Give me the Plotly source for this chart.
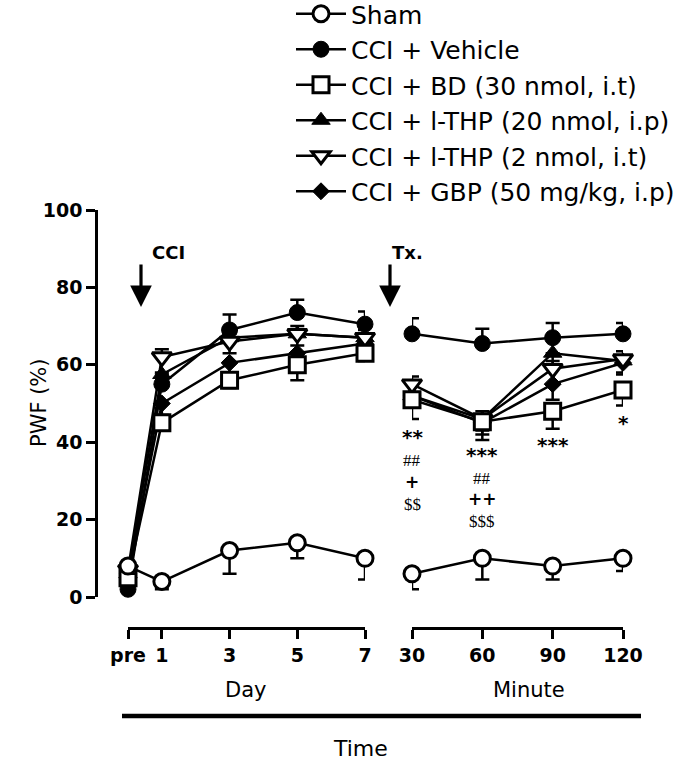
import plotly.graph_objects as go

# ---------------- data ----------------
day_x = [0, 1, 3, 5, 7]
day_ticktext = ["pre", "1", "3", "5", "7"]
min_x = [30, 60, 90, 120]
min_ticktext = ["30", "60", "90", "120"]
y_ticks = [0, 20, 40, 60, 80, 100]

names = ["Sham", "CCI + Vehicle", "CCI + BD (30 nmol, i.t)",
         "CCI + l-THP (20 nmol, i.p)", "CCI + l-THP (2 nmol, i.t)",
         "CCI + GBP (50 mg/kg, i.p)"]

sham_day = [8, 4, 12, 14, 10]
sham_day_err = [2, 2, 6, 4, 5.5]
sham_min = [6, 10, 8, 10]
sham_min_err = [4, 5.5, 3.5, 3.3]

veh_day = [2, 55, 69, 73.5, 70.5]
veh_day_err = [1, 3, 4, 3.3, 3.3]
veh_min = [68, 65.5, 67, 68]
veh_min_err = [4, 3.8, 3.8, 2.8]

bd_day = [5, 45, 56, 60, 63]
bd_day_err = [1.5, 2, 2, 4, 2]
bd_min = [51, 45.3, 48, 53.5]
bd_min_err = [5, 4.7, 4.5, 4]

thp20_day = [6, 57.5, 67, 68, 67]
thp20_day_err = [1, 3, 4, 3, 2]
thp20_min = [52, 46, 63, 61]
thp20_min_err = [3, 3, 4, 3]

thp2_day = [7, 62, 66, 68, 67]
thp2_day_err = [1, 2, 2, 2, 2]
thp2_min = [55, 46, 59, 61.5]
thp2_min_err = [2, 2, 2, 2]

gbp_day = [6, 50, 60.5, 63, 65.5]
gbp_day_err = [1, 3, 3, 3, 2]
gbp_min = [52, 45, 55, 60.5]
gbp_min_err = [3, 3, 4, 3]

sig_30 = ["**", "##", "+", "$$"]
sig_30_y = [41.3, 35.4, 29.7, 23.8]
sig_60 = ["***", "##", "++", "$$$"]
sig_60_y = [36.6, 30.7, 25.2, 19.6]
sig_90 = ["***"]
sig_90_y = [39.2]
sig_120 = ["*"]
sig_120_y = [45.0]

# ---------------- layout helpers ----------------
W, H = 675, 770
def px(x):
    return x / W
def py(y):
    return 1 - y / H

FONT = "DejaVu Sans, sans-serif"
SERIF = "Liberation Serif, serif"

styles = {
    "Sham": dict(symbol="circle", size=16, color="white", line=dict(color="black", width=3)),
    "CCI + Vehicle": dict(symbol="circle", size=16, color="black", line=dict(color="black", width=1)),
    "CCI + BD (30 nmol, i.t)": dict(symbol="square", size=16, color="white", line=dict(color="black", width=3)),
    "CCI + l-THP (20 nmol, i.p)": dict(symbol="triangle-up", size=16, color="black", line=dict(color="black", width=1)),
    "CCI + l-THP (2 nmol, i.t)": dict(symbol="triangle-down", size=17, color="white", line=dict(color="black", width=3)),
    "CCI + GBP (50 mg/kg, i.p)": dict(symbol="diamond", size=13, color="black", line=dict(color="black", width=1)),
}

series = [
    (names[1], veh_day, veh_day_err, veh_min, veh_min_err, "up", 2),
    (names[3], thp20_day, thp20_day_err, thp20_min, thp20_min_err, "down", 4),
    (names[5], gbp_day, gbp_day_err, gbp_min, gbp_min_err, "down", 6),
    (names[4], thp2_day, thp2_day_err, thp2_min, thp2_min_err, "up", 5),
    (names[2], bd_day, bd_day_err, bd_min, bd_min_err, "down", 3),
    (names[0], sham_day, sham_day_err, sham_min, sham_min_err, "down", 1),
]

fig = go.Figure()

def err(vals, direction):
    zeros = [0] * len(vals)
    if direction == "up":
        return dict(type="data", symmetric=False, array=vals, arrayminus=zeros,
                    color="black", thickness=2.5, width=7)
    return dict(type="data", symmetric=False, array=zeros, arrayminus=vals,
                color="black", thickness=2.5, width=7)

for name, dv, de, mv, me, direction, rank in series:
    for xs, ys, es, xa, show in [(day_x, dv, de, "x", True), (min_x, mv, me, "x2", False)]:
        fig.add_trace(go.Scatter(
            x=xs, y=ys, mode="lines+markers", name=name,
            legendgroup=name, showlegend=show, legendrank=rank,
            xaxis=xa, yaxis="y", cliponaxis=False,
            line=dict(color="black", width=2.5),
            marker=styles[name],
            error_y=err(es, direction),
        ))

axis_common = dict(showgrid=False, zeroline=False, showline=True, linecolor="black",
                   linewidth=2.5, ticks="outside", tickcolor="black", tickwidth=2.5,
                   ticklen=9, automargin=False,
                   tickfont=dict(family=FONT, size=19, color="black", weight="bold"))

fig.update_layout(
    width=W, height=H, autosize=False,
    margin=dict(l=0, r=0, t=0, b=0, pad=0, autoexpand=False),
    paper_bgcolor="white", plot_bgcolor="rgba(0,0,0,0)",
    font=dict(family=FONT, color="black"),
    xaxis=dict(domain=[px(128), px(365)], range=[0, 7], anchor="free", position=py(628),
               tickvals=day_x, ticktext=day_ticktext, **axis_common),
    xaxis2=dict(domain=[px(412), px(623)], range=[30, 120], anchor="free", position=py(628),
                tickvals=min_x, ticktext=min_ticktext, **axis_common),
    yaxis=dict(domain=[py(597), py(210)], range=[0, 100], anchor="free", position=px(96),
               tickvals=y_ticks, **axis_common),
    legend=dict(x=px(291), y=py(-9), xanchor="left", yanchor="top",
                font=dict(family=FONT, size=25, color="black"),
                traceorder="grouped", tracegroupgap=0, bgcolor="rgba(0,0,0,0)",
                itemsizing="trace", itemwidth=50),
    showlegend=True,
)

def note(x, y, text, size, family=FONT, weight="normal", angle=0, xref="paper", yref="paper"):
    return dict(x=x, y=y, xref=xref, yref=yref, text=text, showarrow=False,
                xanchor="center", yanchor="middle", textangle=angle,
                font=dict(size=size, family=family, weight=weight, color="black"))

ann = []
ann.append(note(px(39), py(403), "PWF (%)", 21, angle=-90))
ann.append(note(px(245), py(690), "Day", 21))
ann.append(note(px(529), py(690), "Minute", 21))
ann.append(note(px(360), py(748), "Time", 22))
for ax_x, label, lx in [(141, "CCI", 168), (390, "Tx.", 407)]:
    ann.append(dict(x=px(ax_x), y=py(307), xref="paper", yref="paper", text="",
                    showarrow=True, ax=0, ay=-44, arrowhead=2, arrowsize=1.35,
                    arrowwidth=3.2, arrowcolor="black"))
    ann.append(note(px(lx), py(253), label, 18, weight="bold"))
for xv, texts, ys in [(30, sig_30, sig_30_y), (60, sig_60, sig_60_y),
                      (90, sig_90, sig_90_y), (120, sig_120, sig_120_y)]:
    for t, yv in zip(texts, ys):
        if "*" in t:
            ann.append(note(xv, yv, t, 20, weight="bold", xref="x2", yref="y"))
        elif "+" in t:
            ann.append(note(xv, yv, t, 17, weight="bold", xref="x2", yref="y"))
        else:
            ann.append(note(xv, yv, t, 17, family=SERIF, xref="x2", yref="y"))
fig.update_layout(annotations=ann)

fig.add_shape(type="line", xref="paper", yref="paper",
              x0=px(122), x1=px(641), y0=py(716), y1=py(716),
              line=dict(color="black", width=4.5))

fig.write_html("out.html", config={"responsive": False, "displayModeBar": False},
               post_script="document.body.style.margin='0';document.body.style.overflow='hidden';")
